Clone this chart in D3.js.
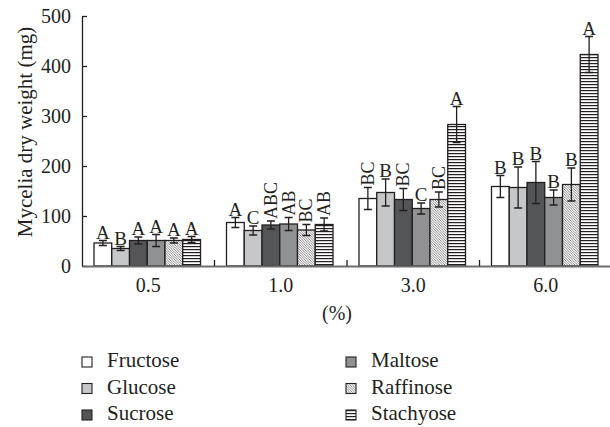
<!DOCTYPE html>
<html lang="en">
<head>
<meta charset="UTF-8">
<title>Mycelia dry weight</title>
<script src="https://d3js.org/d3.v7.min.js"></script>
<style>
    body {
    margin: 0;
    background-color: white;
    }
    svg text {
    font-family: "Liberation Serif", "DejaVu Serif", serif;
    fill: #231f20;
    }
    .bar {
    stroke: #231f20;
    stroke-width: 1.3px;
    }
    .err {
    stroke: #231f20;
    stroke-width: 1.3px;
    fill: none;
    }
</style>
</head>
<body>
<svg id="chart" width="610" height="427"></svg>
<script>
    const width = 610;
    const height = 427;
    const svg = d3.select("#chart");

    const concentrations = ["0.5", "1.0", "3.0", "6.0"];
    const sugars = ["Fructose", "Glucose", "Sucrose", "Maltose", "Raffinose", "Stachyose"];

    // mean dry weight per sugar, one value per concentration
    const fructose  = [46, 87, 135, 159];
    const glucose   = [35, 71, 147, 157];
    const sucrose   = [51, 82, 133, 167];
    const maltose   = [51, 84, 115, 137];
    const raffinose = [51, 72, 133, 163];
    const stachyose = [53, 83, 283, 423];

    // standard deviations
    const fructoseErr  = [5, 10, 22, 22];
    const glucoseErr   = [4, 9, 27, 41];
    const sucroseErr   = [7, 8, 22, 42];
    const maltoseErr   = [12, 13, 11, 15];
    const raffinoseErr = [5, 11, 15, 33];
    const stachyoseErr = [6, 13, 36, 36];

    // significance letters
    const fructoseSig  = ["A", "A", "BC", "B"];
    const glucoseSig   = ["B", "C", "B", "B"];
    const sucroseSig   = ["A", "ABC", "BC", "B"];
    const maltoseSig   = ["A", "AB", "C", "B"];
    const raffinoseSig = ["A", "BC", "BC", "B"];
    const stachyoseSig = ["A", "AB", "A", "A"];

    const yTicks = [0, 100, 200, 300, 400, 500];

    const means = [fructose, glucose, sucrose, maltose, raffinose, stachyose];
    const errs = [fructoseErr, glucoseErr, sucroseErr, maltoseErr, raffinoseErr, stachyoseErr];
    const sigs = [fructoseSig, glucoseSig, sucroseSig, maltoseSig, raffinoseSig, stachyoseSig];

    const fills = {
      Fructose: "#ffffff",
      Glucose: "#c6c7c8",
      Sucrose: "#545557",
      Maltose: "#909193",
      Raffinose: "url(#diag)",
      Stachyose: "url(#horiz)"
    };

    // patterns
    const defs = svg.append("defs");
    const diag = defs.append("pattern")
      .attr("id", "diag")
      .attr("patternUnits", "userSpaceOnUse")
      .attr("width", 2.5)
      .attr("height", 2.5);
    diag.append("rect").attr("width", 2.5).attr("height", 2.5).attr("fill", "white");
    diag.append("path")
      .attr("d", "M-1,-1 L3.5,3.5 M-1,1.5 L1,3.5 M1.5,-1 L3.5,1")
      .attr("stroke", "#555")
      .attr("stroke-width", 0.7);

    const horiz = defs.append("pattern")
      .attr("id", "horiz")
      .attr("patternUnits", "userSpaceOnUse")
      .attr("width", 6)
      .attr("height", 3);
    horiz.append("rect").attr("width", 6).attr("height", 3).attr("fill", "white");
    horiz.append("rect").attr("y", 0).attr("width", 6).attr("height", 1.2).attr("fill", "#231f20");

    const margin = {left: 82, right: 612, top: 16, bottom: 266};

    const x0 = d3.scaleBand()
      .domain(concentrations)
      .range([margin.left, margin.right])
      .padding(0);

    const x1 = d3.scaleBand()
      .domain(sugars)
      .range([12, x0.bandwidth() - 14])
      .padding(0);

    const y = d3.scaleLinear()
      .domain([0, 500])
      .range([margin.bottom, margin.top]);

    // bars
    const rows = [];
    concentrations.forEach((c, ci) => {
      sugars.forEach((s, si) => {
        rows.push({c: c, s: s, v: means[si][ci], e: errs[si][ci], sig: sigs[si][ci]});
      });
    });

    const g = svg.append("g");

    g.selectAll(".bar")
      .data(rows)
      .enter()
      .append("rect")
      .attr("class", "bar")
      .attr("x", d => x0(d.c) + x1(d.s))
      .attr("y", d => y(d.v))
      .attr("width", x1.bandwidth())
      .attr("height", d => y(0) - y(d.v))
      .attr("fill", d => fills[d.s]);

    // error bars
    const cap = 4;
    rows.forEach(d => {
      const cx = x0(d.c) + x1(d.s) + x1.bandwidth() / 2;
      const top = y(d.v + d.e);
      const bot = y(d.v - d.e);
      g.append("path")
        .attr("class", "err")
        .attr("d", `M${cx},${top}V${bot}M${cx - cap},${top}H${cx + cap}M${cx - cap},${bot}H${cx + cap}`);

      if (d.sig.length > 1) {
        g.append("text")
          .attr("transform", `translate(${cx + 6},${top - 2}) rotate(-90)`)
          .attr("font-size", 18)
          .text(d.sig);
      } else {
        g.append("text")
          .attr("x", cx)
          .attr("y", top - 2)
          .attr("text-anchor", "middle")
          .attr("font-size", 19)
          .text(d.sig);
      }
    });

    // y axis
    const yAxis = svg.append("g")
      .attr("transform", `translate(${margin.left},0)`)
      .call(d3.axisLeft(y).tickValues(yTicks).tickSize(-5).tickSizeOuter(0).tickPadding(11));
    yAxis.select(".domain").attr("stroke", "#231f20").attr("stroke-width", 1.3);
    yAxis.selectAll(".tick line").attr("stroke", "#231f20").attr("stroke-width", 1.3);
    yAxis.selectAll(".tick text")
      .attr("font-size", 20)
      .attr("font-family", "Liberation Serif, serif")
      .attr("fill", "#231f20");

    // x axis
    const xAxis = svg.append("g")
      .attr("transform", `translate(0,${margin.bottom})`)
      .call(d3.axisBottom(x0).tickSize(0).tickPadding(12));
    xAxis.select(".domain").attr("stroke", "#6d6e70").attr("stroke-width", 2);
    xAxis.selectAll(".tick text")
      .attr("font-size", 20)
      .attr("font-family", "Liberation Serif, serif")
      .attr("fill", "#231f20");

    svg.append("g")
      .selectAll("line")
      .data(concentrations.slice(1))
      .enter()
      .append("line")
      .attr("x1", d => x0(d))
      .attr("x2", d => x0(d))
      .attr("y1", margin.bottom)
      .attr("y2", margin.bottom - 6)
      .attr("stroke", "#231f20")
      .attr("stroke-width", 1.3);

    // axis titles
    svg.append("text")
      .attr("transform", `translate(32,132) rotate(-90)`)
      .attr("text-anchor", "middle")
      .attr("font-size", 21)
      .text("Mycelia dry weight (mg)");

    svg.append("text")
      .attr("x", 337)
      .attr("y", 320)
      .attr("text-anchor", "middle")
      .attr("font-size", 20)
      .text("(%)");

    // legend
    const legend = svg.append("g")
      .selectAll("g")
      .data(sugars)
      .enter()
      .append("g")
      .attr("transform", (d, i) => `translate(${i < 3 ? 82 : 346},${357 + (i % 3) * 26.5})`);

    legend.append("rect")
      .attr("width", 10)
      .attr("height", 10)
      .attr("fill", d => fills[d])
      .attr("stroke", "#231f20")
      .attr("stroke-width", 1.1);

    legend.append("text")
      .attr("x", 25)
      .attr("y", 10)
      .attr("font-size", 21)
      .text(d => d);
</script>
</body>
</html>
